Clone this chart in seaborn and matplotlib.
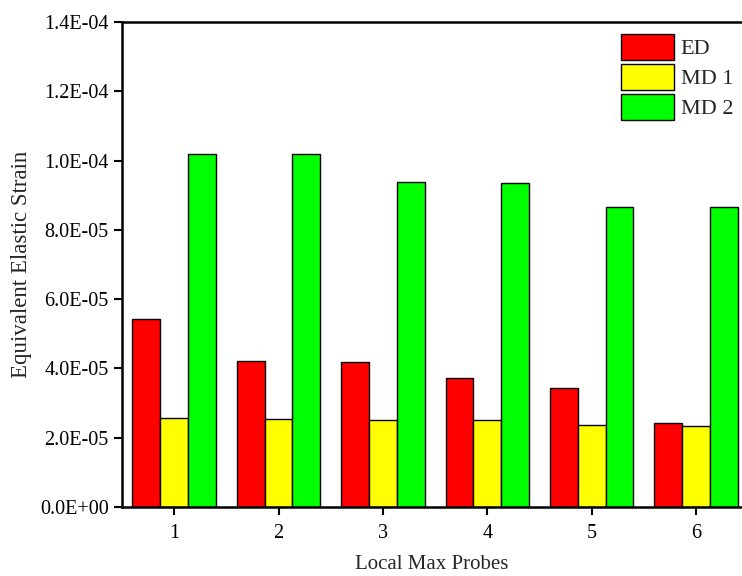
import matplotlib
matplotlib.use("Agg")
import matplotlib.pyplot as plt
import seaborn as sns
import pandas as pd
from matplotlib.ticker import FuncFormatter

probes = ["1", "2", "3", "4", "5", "6"]
series_names = ["ED", "MD 1", "MD 2"]
ed = [5.42e-5, 4.22e-5, 4.18e-5, 3.73e-5, 3.43e-5, 2.43e-5]
md1 = [2.56e-5, 2.55e-5, 2.52e-5, 2.51e-5, 2.36e-5, 2.35e-5]
md2 = [10.19e-5, 10.18e-5, 9.37e-5, 9.35e-5, 8.67e-5, 8.66e-5]
colors = ["#ff0000", "#ffff00", "#00ff00"]

rows = []
for name, vals in zip(series_names, [ed, md1, md2]):
    for p, v in zip(probes, vals):
        rows.append({"probe": p, "series": name, "value": v})
df = pd.DataFrame(rows)

sns.set_style("ticks")
plt.rcParams["font.family"] = ["Liberation Serif", "DejaVu Serif"]

fig = plt.figure(figsize=(7.42, 5.76), dpi=100)
ax = fig.add_axes([122 / 742, 1 - 507 / 576, 1 - 122 / 742, (507 - 22) / 576])

sns.barplot(data=df, x="probe", y="value", hue="series", order=probes,
            hue_order=series_names, palette=colors, width=0.8,
            edgecolor="black", linewidth=1.0, saturation=1, ax=ax)

ax.set_xlim(-0.5, 5.44)
ax.set_ylim(0, 1.4e-4)
ax.set_yticks([i * 2e-5 for i in range(8)])
ax.yaxis.set_major_formatter(FuncFormatter(lambda v, p: "%.1E" % v))
ax.tick_params(axis="both", direction="out", length=6, width=1.5, labelsize=14.5, colors="black")
ax.tick_params(axis="x", pad=6)
for s in ["left", "bottom", "top"]:
    ax.spines[s].set_linewidth(1.8)
    ax.spines[s].set_color("black")
ax.spines["right"].set_visible(False)

ax.set_xlabel("Local Max Probes", fontsize=15, labelpad=9)
ax.set_ylabel("Equivalent Elastic Strain", fontsize=16.5, labelpad=6)

leg = ax.legend(loc="upper right", bbox_to_anchor=(1.0, 0.994), frameon=False,
                fontsize=16, handlelength=2.4, handleheight=1.42,
                labelspacing=0.18, handletextpad=0.3, borderaxespad=0.1,
                borderpad=0.3)

fig.savefig("out.png", dpi=100)
